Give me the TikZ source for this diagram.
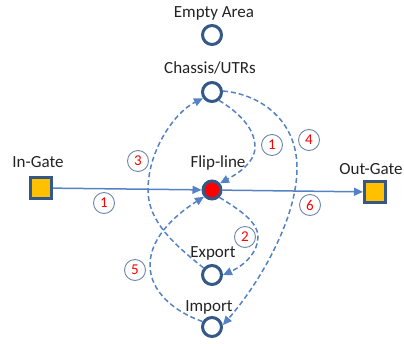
\documentclass[tikz,border=0pt]{standalone}
\usepackage{fontspec}
\setmainfont{Carlito}
\usetikzlibrary{arrows.meta}
\definecolor{nodeblue}{RGB}{52,88,136}
\definecolor{linkblue}{RGB}{84,130,196}
\definecolor{gateorange}{RGB}{255,192,0}
\definecolor{numring}{RGB}{110,135,170}
\definecolor{txtgray}{RGB}{35,35,35}
\tikzset{
  area/.style={circle,draw=nodeblue,line width=3pt,fill=white,minimum size=19pt,inner sep=0pt},
  flipnode/.style={circle,draw=nodeblue,line width=3pt,fill=red,minimum size=18pt,inner sep=0pt},
  gate/.style={rectangle,draw=nodeblue,line width=3pt,fill=gateorange,minimum size=21pt,inner sep=0pt},
  lbl/.style={text=txtgray,font=\fontsize{17}{18}\selectfont,inner sep=0pt},
  num/.style={circle,draw=numring,line width=0.9pt,fill=white,minimum size=21pt,inner sep=0pt,text=red,font=\fontsize{15}{15}\selectfont},
  solidlink/.style={draw=linkblue,line width=1.5pt,-{Triangle[length=9pt,width=8pt]}},
  dashlink/.style={draw=linkblue,line width=1.5pt,dash pattern=on 5pt off 3pt,-{Triangle[length=9pt,width=8pt]}},
}
\begin{document}
\begin{tikzpicture}[x=1pt,y=-1pt]
\useasboundingbox (0,0) rectangle (404,343);
% nodes
\node[area] (empty) at (212,35) {};
\node[area] (chassis) at (212,92) {};
\node[flipnode] (flip) at (212,190) {};
\node[area] (export) at (212,275) {};
\node[area] (import) at (212,327) {};
\node[gate] (ingate) at (41,188) {};
\node[gate] (outgate) at (375,192) {};
% labels
\node[lbl] (tempty) at (214,13) {Empty Area};
\node[lbl] (tchassis) at (210,68) {Chassis/UTRs};
\node[lbl] (tflip) at (218,163) {Flip-line};
\node[lbl] (tin) at (38,162) {In-Gate};
\node[lbl] (tout) at (371,169) {Out-Gate};
\node[lbl] (texport) at (213,253) {Export};
\node[lbl] (timport) at (209,307) {Import};
% connectors
\draw[solidlink] (ingate) -- (flip);
\draw[solidlink] (flip) -- (outgate);
% 1: chassis -> flip
\draw[dashlink] (chassis.-50) .. controls (238,112) and (255,128) .. (255,147) .. controls (255,163) and (237,174) .. (flip.40);
% 4: chassis -> import
\draw[dashlink] (chassis.5) .. controls (260,94) and (297,120) .. (297,168) .. controls (297,220) and (258,285) .. (import.10);
% 2: flip -> export
\draw[dashlink] (flip.-45) .. controls (240,210) and (258,222) .. (258,237) .. controls (258,252) and (245,265) .. (export.0);
% 3: export -> chassis
\draw[dashlink] (export.140) .. controls (175,245) and (148,222) .. (148,190) .. controls (148,150) and (175,112) .. (chassis.-145);
% 5: import -> flip
\draw[dashlink] (import.150) .. controls (175,312) and (150,292) .. (150,265) .. controls (150,235) and (180,212) .. (flip.-140);
% number labels
\node[num] (n1a) at (104,203) {1};
\node[num] (n3) at (138,161) {3};
\node[num] (n1b) at (272,145) {1};
\node[num] (n4) at (309,140) {4};
\node[num] (n6) at (310,205) {6};
\node[num] (n2) at (245,237) {2};
\node[num] (n5) at (135,270) {5};
\end{tikzpicture}
\end{document}
